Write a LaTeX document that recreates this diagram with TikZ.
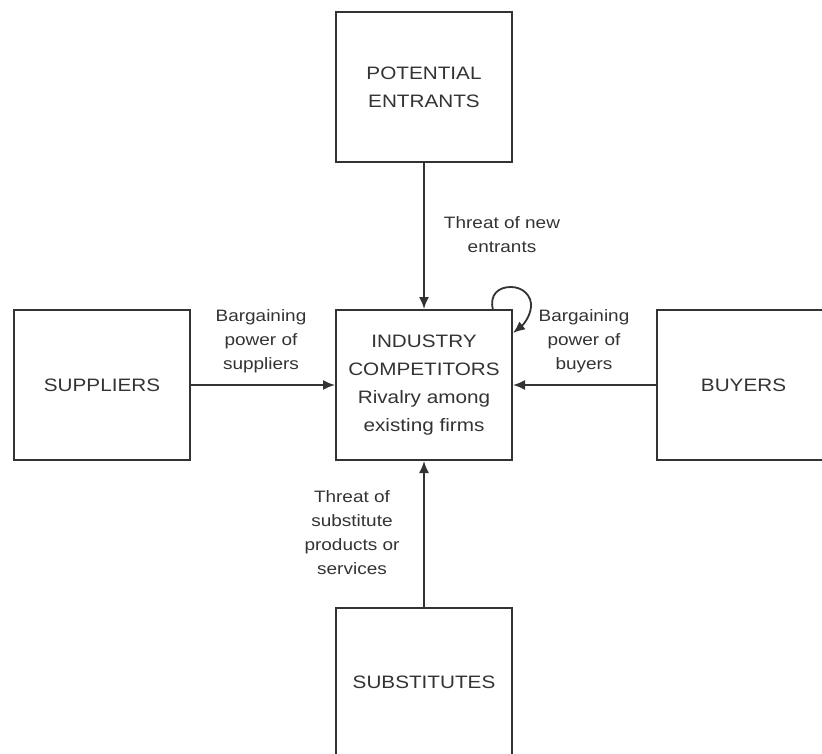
\documentclass[tikz,border=0pt]{standalone}
\usepackage{fontspec}
\setmainfont{Liberation Sans}[FakeStretch=1.15]
\usetikzlibrary{arrows.meta}
\definecolor{ink}{HTML}{333333}
\begin{document}
\begin{tikzpicture}[x=1pt,y=-1pt,
  box/.style={draw=ink, line width=2pt, rectangle, align=center, text=ink,
    font=\fontsize{18}{28}\selectfont, inner sep=0pt},
  lbl/.style={align=center, text=ink, font=\fontsize{16.5}{24}\selectfont, inner sep=0pt},
  arr/.style={draw=ink, line width=1.8pt, -{Latex[length=12pt,width=10pt]}}]
\useasboundingbox (0,0) rectangle (822,754);
\clip (0,0) rectangle (822,754);
\node[box, minimum width=176, minimum height=150] (pe) at (424,87) {POTENTIAL\\ENTRANTS};
\node[box, minimum width=176, minimum height=150] (ind) at (424,385) {INDUSTRY\\COMPETITORS\\Rivalry among\\existing firms};
\node[box, minimum width=176, minimum height=150] (sup) at (102,385) {SUPPLIERS};
\node[box, minimum width=173, minimum height=150] (buy) at (743.5,385) {BUYERS};
\node[box, minimum width=176, minimum height=148] (sub) at (424,682) {SUBSTITUTES};
\draw[arr] (pe.south) -- (ind.north);
\draw[arr] (sup.east) -- (ind.west);
\draw[arr] (buy.west) -- (ind.east);
\draw[arr] (sub.north) -- (ind.south);
\coordinate (ls) at (493,310);
\coordinate (le) at (513,333);
\draw[arr] (ls) .. controls (489,294) and (499,287) .. (511,287)
  .. controls (523,287) and (532,296) .. (531,307)
  .. controls (530,317) and (523,325) .. (le);
\node[lbl] (lpe) at (502,235) {Threat of new\\entrants};
\node[lbl] (lsup) at (261,341) {Bargaining\\power of\\suppliers};
\node[lbl] (lbuy) at (584,341) {Bargaining\\power of\\buyers};
\node[lbl] (lsub) at (352,533) {Threat of\\substitute\\products or\\services};
\end{tikzpicture}
\end{document}
